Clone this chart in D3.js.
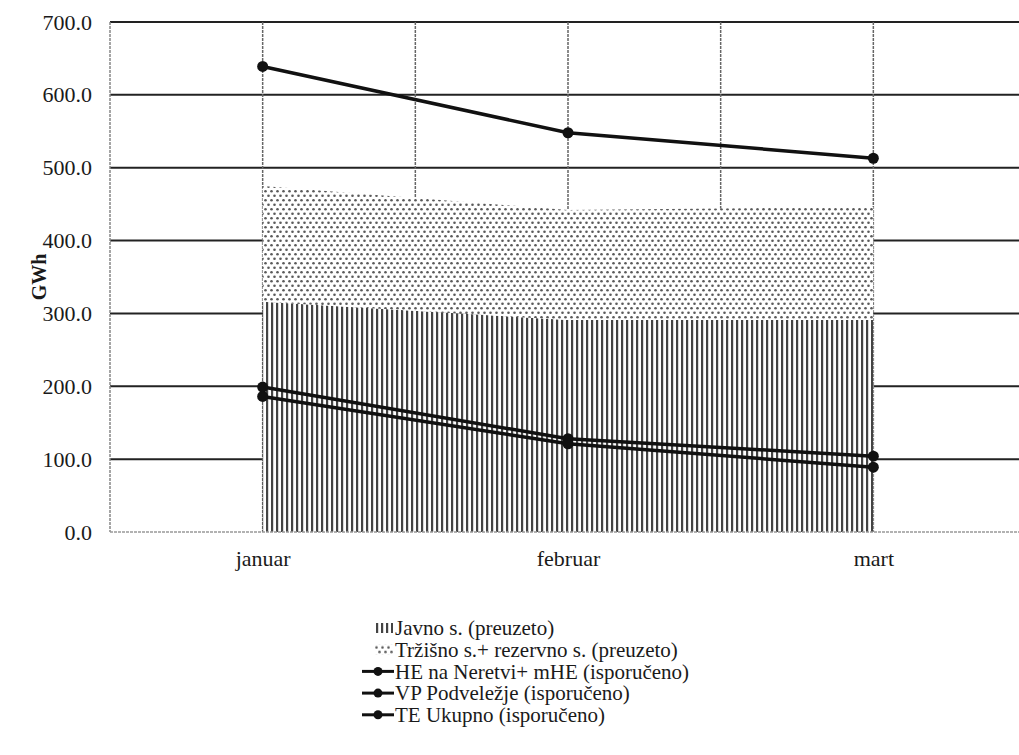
<!DOCTYPE html>
<html>
<head>
<meta charset="utf-8">
<script src="https://cdn.jsdelivr.net/npm/d3@7/dist/d3.min.js"></script>
<style>
  body { margin: 0; background: #fff; }
</style>
</head>
<body>
<div id="chart-container"></div>
<script>
var months = ['januar', 'februar', 'mart']
var javno = [316, 291, 291]
var trzisno = [159, 151, 155]
var heNeretva = [199, 128, 104]
var vpPodvelezje = [186, 121, 89]
var teUkupno = [639, 548, 513]
var yTicks = [0, 100, 200, 300, 400, 500, 600, 700]

var FONT = 'Liberation Serif'
var W = 1019, H = 755
var margin = {top: 22, left: 110, right: -7, bottom: 223}
var plotRight = W - margin.right
var plotBottom = H - margin.bottom

var xScale = d3.scalePoint()
  .domain(months)
  .range([margin.left, plotRight])
  .padding(0.5)

var yScale = d3.scaleLinear()
  .domain([0, 700])
  .range([plotBottom, margin.top])

var svg = d3.select('#chart-container')
  .append('svg')
  .attr('width', W)
  .attr('height', H)
  .attr('font-family', FONT)

var defs = svg.append('defs')

// vertical hatch for Javno s.
var vp = defs.append('pattern')
  .attr('id', 'vhatch')
  .attr('patternUnits', 'userSpaceOnUse')
  .attr('width', 5).attr('height', 10)
vp.append('rect').attr('width', 5).attr('height', 10).attr('fill', '#fff')
vp.append('rect').attr('x', 1).attr('width', 2.2).attr('height', 10).attr('fill', '#444')

// dots for Tržišno s.
var dp = defs.append('pattern')
  .attr('id', 'dots')
  .attr('patternUnits', 'userSpaceOnUse')
  .attr('width', 6).attr('height', 9)
dp.append('rect').attr('width', 6).attr('height', 9).attr('fill', '#fff')
dp.append('circle').attr('cx', 1.5).attr('cy', 2.25).attr('r', 1.3).attr('fill', '#5a5a5a')
dp.append('circle').attr('cx', 4.5).attr('cy', 6.75).attr('r', 1.3).attr('fill', '#5a5a5a')

/* horizontal gridlines */
svg.append('g')
  .selectAll('line')
  .data(yTicks.slice(1))
  .join('line')
  .attr('x1', margin.left).attr('x2', plotRight)
  .attr('y1', d => yScale(d)).attr('y2', d => yScale(d))
  .attr('stroke', '#222').attr('stroke-width', 2)

/* vertical gridlines, every half category */
var step = xScale.step()
var vLines = d3.range(1, 7).map(i => margin.left + i * step / 2)
svg.append('g')
  .selectAll('line')
  .data(vLines)
  .join('line')
  .attr('x1', d => d).attr('x2', d => d)
  .attr('y1', margin.top).attr('y2', plotBottom)
  .attr('stroke', '#666').attr('stroke-width', 1.5)
  .attr('stroke-dasharray', '3,1')

/* stacked areas */
var stackData = months.map((m, i) => ({month: m, javno: javno[i], trzisno: trzisno[i]}))
var series = d3.stack().keys(['javno', 'trzisno'])(stackData)
var area = d3.area()
  .x(d => xScale(d.data.month))
  .y0(d => yScale(d[0]))
  .y1(d => yScale(d[1]))

svg.append('g')
  .selectAll('path')
  .data(series)
  .join('path')
  .attr('d', area)
  .attr('fill', d => d.key === 'javno' ? 'url(#vhatch)' : 'url(#dots)')

/* axes lines */
svg.append('line')
  .attr('x1', margin.left).attr('x2', margin.left)
  .attr('y1', margin.top).attr('y2', plotBottom)
  .attr('stroke', '#888').attr('stroke-width', 1.5)
  .attr('stroke-dasharray', '3,1')
svg.append('line')
  .attr('x1', margin.left).attr('x2', plotRight)
  .attr('y1', plotBottom).attr('y2', plotBottom)
  .attr('stroke', '#999').attr('stroke-width', 1.5)
  .attr('stroke-dasharray', '3,1')

/* y axis labels */
var yAxis = svg.append('g')
  .attr('transform', 'translate(' + (margin.left - 18) + ',0)')
  .call(d3.axisLeft(yScale).tickValues(yTicks).tickSize(0).tickFormat(d3.format('.1f')))
yAxis.attr('font-family', FONT).attr('font-size', 22)
yAxis.select('.domain').remove()
yAxis.selectAll('text')
  .attr('x', 0)
  .attr('fill', '#1a1a1a')

svg.append('text')
  .attr('transform', 'translate(46,' + ((margin.top + plotBottom) / 2) + ') rotate(-90)')
  .attr('text-anchor', 'middle')
  .attr('font-family', FONT)
  .attr('font-size', 20)
  .attr('font-weight', 'bold')
  .attr('fill', '#1a1a1a')
  .text('GWh')

/* x axis labels */
var xAxis = svg.append('g')
  .attr('transform', 'translate(0,' + (plotBottom + 15) + ')')
  .call(d3.axisBottom(xScale).tickSize(0))
xAxis.attr('font-family', FONT).attr('font-size', 22)
xAxis.select('.domain').remove()
xAxis.selectAll('text')
  .attr('fill', '#1a1a1a')

/* lines */
var lineSeries = [heNeretva, vpPodvelezje, teUkupno]
var line = d3.line()
  .x((d, i) => xScale(months[i]))
  .y(d => yScale(d))

lineSeries.forEach(function(vals) {
  svg.append('path')
    .datum(vals)
    .attr('d', line)
    .attr('fill', 'none')
    .attr('stroke', '#111')
    .attr('stroke-width', 3.5)
  svg.append('g')
    .selectAll('circle')
    .data(vals)
    .join('circle')
    .attr('cx', (d, i) => xScale(months[i]))
    .attr('cy', d => yScale(d))
    .attr('r', 5.5)
    .attr('fill', '#111')
})

/* legend */
var legendItems = [
  {label: 'Javno s. (preuzeto)', type: 'vhatch'},
  {label: 'Tržišno s.+ rezervno s. (preuzeto)', type: 'dots'},
  {label: 'HE na Neretvi+ mHE (isporučeno)', type: 'line'},
  {label: 'VP Podveležje (isporučeno)', type: 'line'},
  {label: 'TE Ukupno (isporučeno)', type: 'line'}
]
var legend = svg.append('g').attr('transform', 'translate(360,628)')
var rows = legend.selectAll('g')
  .data(legendItems)
  .join('g')
  .attr('transform', (d, i) => 'translate(0,' + (i * 21.7) + ')')

rows.filter(d => d.type !== 'line')
  .append('rect')
  .attr('x', 15).attr('y', -5).attr('width', 18).attr('height', 10)
  .attr('fill', d => 'url(#' + d.type + ')')

rows.filter(d => d.type === 'line')
  .append('line')
  .attr('x1', 2).attr('x2', 34)
  .attr('stroke', '#111').attr('stroke-width', 3)
rows.filter(d => d.type === 'line')
  .append('circle')
  .attr('cx', 18).attr('r', 4.5).attr('fill', '#111')

rows.append('text')
  .attr('x', 35)
  .attr('dy', '0.34em')
  .attr('font-family', FONT)
  .attr('font-size', 21)
  .attr('fill', '#1a1a1a')
  .text(d => d.label)
</script>
</body>
</html>
